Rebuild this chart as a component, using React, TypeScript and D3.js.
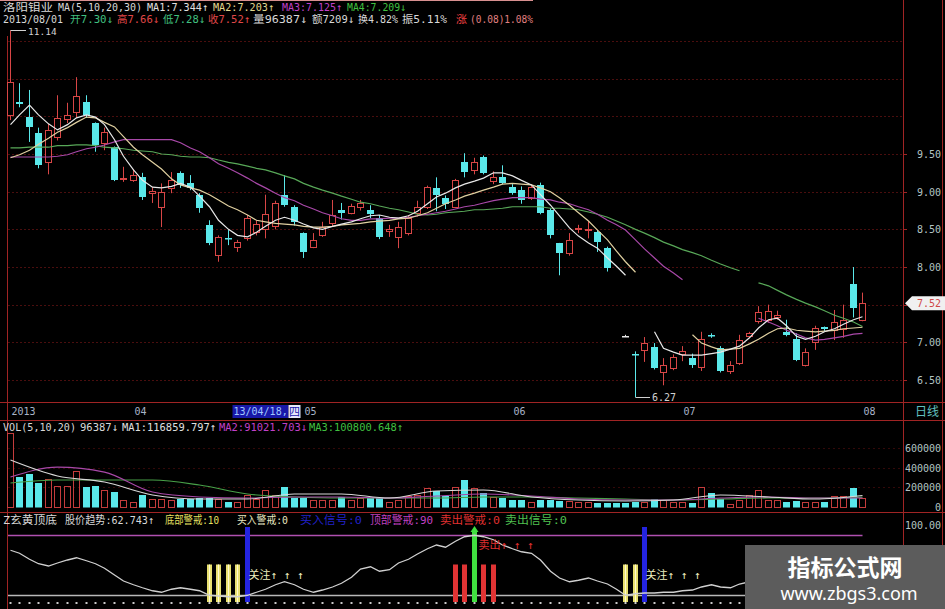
import React from 'react';
import * as d3 from 'd3';

const W = 945;
const H = 609;

// ---------- price candles (index 64 missing in the price panel) ----------
const opens: (number | null)[] = [10.02, 10.19, 9.99, 9.78, 9.40, 9.72, 9.96, 10.06, 10.19, 9.91, 9.65, 9.59, 9.17, 9.16, 9.19, 8.98, 8.79, 9.05, 9.25, 9.11, 8.96, 8.56, 8.16, 8.39, 8.26, 8.38, 8.47, 8.50, 8.55, 8.96, 8.80, 8.45, 8.27, 8.43, 8.58, 8.76, 8.72, 8.79, 8.76, 8.65, 8.48, 8.40, 8.45, 8.72, 8.80, 9.05, 8.92, 8.80, 9.39, 9.29, 9.46, 9.14, 9.19, 9.06, 9.02, 8.92, 9.09, 8.76, 8.32, 8.19, 8.50, 8.49, 8.46, 8.25, null, 7.09, 6.85, 6.90, 6.94, 6.60, 6.66, 6.84, 6.79, 6.67, 7.10, 6.92, 6.62, 6.72, 7.09, 7.28, 7.30, 7.34, 7.14, 7.05, 6.70, 7.00, 7.20, 7.17, 7.18, 7.78, 7.30];
const highs: (number | null)[] = [11.14, 10.44, 10.35, 9.85, 9.90, 10.28, 10.18, 10.52, 10.28, 9.92, 9.85, 9.60, 9.33, 9.30, 9.25, 9.06, 9.11, 9.26, 9.27, 9.22, 8.98, 8.62, 8.42, 8.49, 8.36, 8.69, 8.62, 8.96, 8.88, 9.22, 8.82, 8.46, 8.45, 8.60, 8.89, 8.85, 8.84, 8.89, 8.82, 8.69, 8.56, 8.60, 8.69, 8.88, 9.08, 9.19, 8.95, 9.17, 9.51, 9.45, 9.48, 9.27, 9.35, 9.10, 9.07, 9.09, 9.12, 8.78, 8.32, 8.45, 8.56, 8.61, 8.49, 8.27, null, 7.10, 6.88, 7.07, 6.99, 6.79, 6.84, 6.95, 6.85, 7.14, 7.12, 6.95, 6.75, 7.10, 7.14, 7.48, 7.50, 7.42, 7.30, 7.12, 6.92, 7.22, 7.21, 7.43, 7.50, 8.00, 7.66];
const lows: (number | null)[] = [9.95, 10.12, 9.66, 9.31, 9.23, 9.68, 9.91, 9.98, 9.98, 9.53, 9.55, 9.14, 9.13, 9.13, 8.89, 8.85, 8.53, 8.98, 9.05, 9.02, 8.72, 8.29, 8.07, 8.29, 8.20, 8.35, 8.42, 8.38, 8.50, 8.80, 8.55, 8.12, 8.25, 8.40, 8.53, 8.63, 8.70, 8.75, 8.65, 8.37, 8.40, 8.25, 8.42, 8.67, 8.77, 8.74, 8.77, 8.78, 9.19, 9.23, 9.23, 9.10, 9.10, 8.96, 8.84, 8.89, 8.70, 8.38, 7.89, 8.15, 8.45, 8.38, 8.20, 7.94, null, 7.08, 6.27, 6.74, 6.64, 6.43, 6.63, 6.75, 6.66, 6.62, 7.06, 6.60, 6.58, 6.70, 7.06, 7.25, 7.26, 7.30, 7.08, 6.75, 6.68, 6.90, 7.15, 7.03, 7.06, 7.33, 7.28];
const closes: (number | null)[] = [10.46, 10.17, 9.86, 9.35, 9.82, 9.98, 10.02, 10.27, 10.02, 9.62, 9.79, 9.16, 9.18, 9.22, 8.93, 9.01, 8.99, 9.15, 9.09, 9.05, 8.78, 8.32, 8.40, 8.38, 8.33, 8.65, 8.57, 8.70, 8.85, 8.82, 8.60, 8.20, 8.36, 8.53, 8.69, 8.72, 8.81, 8.85, 8.70, 8.40, 8.50, 8.53, 8.65, 8.80, 9.06, 8.96, 8.83, 9.15, 9.26, 9.39, 9.25, 9.20, 9.11, 8.98, 8.89, 9.06, 8.72, 8.43, 8.19, 8.36, 8.52, 8.51, 8.33, 7.99, null, 7.09, 6.83, 6.99, 6.66, 6.70, 6.80, 6.88, 6.70, 7.05, 7.08, 6.62, 6.70, 7.03, 7.12, 7.40, 7.42, 7.36, 7.10, 6.76, 6.87, 7.19, 7.18, 7.27, 7.30, 7.45, 7.52];

// ---------- price moving averages ----------
const ma5: (number | null)[] = [9.89, 10.02, 10.15, 10.02, 9.90, 9.82, 9.89, 9.98, 10.02, 9.99, 9.89, 9.69, 9.47, 9.29, 9.15, 9.06, 9.05, 9.07, 9.11, 9.06, 8.94, 8.80, 8.62, 8.50, 8.42, 8.40, 8.46, 8.54, 8.62, 8.66, 8.62, 8.57, 8.52, 8.50, 8.54, 8.57, 8.60, 8.64, 8.68, 8.69, 8.66, 8.65, 8.68, 8.74, 8.84, 8.93, 8.98, 9.05, 9.10, 9.14, 9.18, 9.25, 9.25, 9.21, 9.15, 9.09, 8.96, 8.82, 8.68, 8.52, 8.41, 8.32, 8.25, 8.12, 8.01, 7.89, null, null, 7.14, 6.92, 6.87, 6.83, 6.83, 6.83, 6.85, 6.87, 6.91, 6.95, 7.06, 7.19, 7.30, 7.32, 7.22, 7.08, 7.04, 7.08, 7.14, 7.18, 7.24, 7.30, 7.34];
const ma10: (number | null)[] = [9.45, 9.49, 9.55, 9.63, 9.71, 9.79, 9.85, 9.92, 9.99, 9.98, 9.92, 9.86, 9.73, 9.59, 9.49, 9.39, 9.30, 9.17, 9.09, 9.05, 9.02, 8.96, 8.89, 8.81, 8.76, 8.69, 8.62, 8.60, 8.58, 8.57, 8.56, 8.54, 8.53, 8.53, 8.54, 8.56, 8.57, 8.58, 8.60, 8.61, 8.62, 8.64, 8.65, 8.68, 8.72, 8.78, 8.84, 8.89, 8.94, 8.98, 9.02, 9.06, 9.10, 9.11, 9.10, 9.09, 9.05, 9.00, 8.92, 8.82, 8.72, 8.61, 8.49, 8.36, 8.21, 8.07, 7.93, null, null, null, null, null, 7.10, 6.99, 6.94, 6.90, 6.91, 6.92, 6.98, 7.04, 7.12, 7.18, 7.19, 7.16, 7.15, 7.14, 7.15, 7.16, 7.18, 7.19, 7.20];
const ma20: (number | null)[] = [9.46, 9.46, 9.46, 9.46, 9.46, 9.47, 9.49, 9.53, 9.57, 9.59, 9.62, 9.66, 9.69, 9.69, 9.69, 9.69, 9.69, 9.69, 9.65, 9.58, 9.53, 9.45, 9.37, 9.31, 9.25, 9.18, 9.11, 9.05, 8.98, 8.92, 8.88, 8.82, 8.77, 8.72, 8.68, 8.64, 8.62, 8.62, 8.64, 8.64, 8.65, 8.65, 8.66, 8.68, 8.70, 8.72, 8.74, 8.77, 8.80, 8.82, 8.85, 8.88, 8.90, 8.92, 8.92, 8.92, 8.90, 8.89, 8.86, 8.84, 8.80, 8.76, 8.70, 8.62, 8.56, 8.49, 8.36, 8.24, 8.12, 8.01, 7.92, 7.83, null, null, null, null, null, null, null, 7.32, 7.27, 7.22, 7.16, 7.11, 7.06, 7.03, 7.04, 7.06, 7.08, 7.11, 7.12];
const ma30: (number | null)[] = [9.58, 9.58, 9.59, 9.59, 9.59, 9.61, 9.61, 9.62, 9.62, 9.61, 9.59, 9.58, 9.57, 9.55, 9.54, 9.53, 9.50, 9.49, 9.47, 9.46, 9.46, 9.45, 9.42, 9.39, 9.37, 9.34, 9.31, 9.29, 9.25, 9.21, 9.17, 9.11, 9.06, 9.02, 8.98, 8.94, 8.90, 8.86, 8.84, 8.81, 8.78, 8.76, 8.73, 8.70, 8.69, 8.70, 8.72, 8.73, 8.74, 8.76, 8.76, 8.77, 8.78, 8.80, 8.80, 8.80, 8.80, 8.78, 8.78, 8.77, 8.76, 8.73, 8.70, 8.66, 8.61, 8.56, 8.50, 8.45, 8.39, 8.33, 8.28, 8.23, 8.19, 8.15, 8.09, 8.04, 7.99, 7.95, null, 7.79, 7.75, 7.69, 7.63, 7.57, 7.52, 7.47, 7.42, 7.36, 7.32, 7.27, 7.21];

// ---------- volume ----------
const volumes: number[] = [751000, 305000, 335000, 244000, 284000, 213000, 213000, 365000, 203000, 213000, 173000, 152000, 71000, 51000, 122000, 81000, 81000, 71000, 81000, 81000, 92000, 92000, 81000, 51000, 51000, 122000, 81000, 173000, 122000, 203000, 92000, 92000, 71000, 71000, 71000, 102000, 71000, 92000, 92000, 92000, 51000, 71000, 112000, 122000, 193000, 163000, 112000, 203000, 274000, 193000, 142000, 102000, 92000, 71000, 71000, 51000, 71000, 71000, 60000, 60000, 51000, 51000, 41000, 41000, 36000, 41000, 51000, 51000, 81000, 71000, 51000, 51000, 41000, 203000, 142000, 81000, 30000, 71000, 122000, 173000, 71000, 71000, 51000, 61000, 51000, 51000, 51000, 112000, 112000, 193000, 96387];
const volMaIdx: number[] = [0, 5, 10, 15, 20, 25, 30, 35, 40, 45, 50, 55, 60, 65, 70, 75, 80, 85, 90];
const volMa5: number[] = [477000, 315000, 254000, 122000, 81000, 81000, 132000, 132000, 91000, 162000, 173000, 102000, 71000, 61000, 71000, 122000, 102000, 81000, 116860];
const volMa10: number[] = [305000, 406000, 355000, 152000, 102000, 91000, 102000, 102000, 91000, 112000, 132000, 112000, 81000, 71000, 71000, 91000, 102000, 91000, 91022];
const volMa20: number[] = [244000, 274000, 274000, 274000, 223000, 132000, 102000, 91000, 91000, 91000, 102000, 102000, 91000, 81000, 71000, 81000, 91000, 91000, 100800];

// ---------- indicator (Z玄黄顶底) ----------
const trend: number[] = [69, 65, 57, 51, 48, 52, 56, 59, 55, 51, 45, 36, 28, 23, 19, 15, 13, 17, 19, 17, 15, 9, 8, 7, 7, 9, 13, 17, 23, 27, 23, 17, 13, 16, 20, 25, 33, 44, 47, 41, 43, 52, 57, 64, 71, 76, 73, 81, 87, 89, 87, 83, 76, 71, 67, 65, 56, 41, 32, 27, 29, 32, 28, 24, 17, 9, 11, 12, 12, 13, 13, 15, 16, 20, 23, 20, 19, 24, 27];
const bottomSig: number[] = [21, 22, 23, 24, 65, 66];
const buySig: number[] = [25, 67];
const sellWarnSig: number[] = [47, 48, 50, 51];
const sellSig: number[] = [49];

// ---------- tick labels ----------
const priceTicks: number[] = [6.5, 7.0, 7.5, 8.0, 8.5, 9.0, 9.5];
const gridPrices: number[] = [6.5, 7.0, 7.5, 8.0, 8.5, 9.0, 9.5, 10.0, 10.5, 11.0];
const volTicks: number[] = [0, 200000, 400000, 600000];
const dateLabels: string[] = ['2013', '04', '05', '06', '07', '08'];
const dateIdx: number[] = [0, 13, 31, 53, 71, 90];

const CYAN = '#5ae8ea';
const RED = '#d84646';
const GRID = '#4a0e0e';
const FRAME = '#a02424';
const AXIS_TXT = '#b4c4c4';

const N = opens.length;
const xBand = d3.scaleBand<number>().domain(d3.range(N)).range([5, 867]);
const cx = (i: number) => Math.round((xBand(i) as number) + xBand.bandwidth() / 2) + 0.5;
const yP = d3.scaleLinear().domain([6.5, 9.5]).range([380, 154]);
const yV = d3.scaleLinear().domain([0, 600000]).range([507, 448]);
const yI = d3.scaleLinear().domain([0, 100]).range([602, 527]);

const MONO = "'DejaVu Sans Mono', 'Noto Sans CJK SC', monospace";

type Seg = { t: string; x: number; w: number; c: string };
const head1: Seg[] = [
  { t: '洛阳钼业', x: 3, w: 50, c: '#d8d8d8' },
  { t: 'MA(5,10,20,30)', x: 58, w: 84, c: '#d8d8d8' },
  { t: 'MA1:7.344↑', x: 147, w: 61, c: '#e0e0e0' },
  { t: 'MA2:7.203↑', x: 213, w: 61, c: '#e0d890' },
  { t: 'MA3:7.125↑', x: 282, w: 60, c: '#c040c8' },
  { t: 'MA4:7.209↓', x: 347, w: 59, c: '#40c040' },
];
const head2: Seg[] = [
  { t: '2013/08/01', x: 3, w: 60, c: '#d8d8d8' },
  { t: '开7.30↓', x: 70, w: 43, c: '#40c080' },
  { t: '高7.66↓', x: 117, w: 42, c: '#e04848' },
  { t: '低7.28↓', x: 163, w: 42, c: '#40c080' },
  { t: '收7.52↑', x: 208, w: 42, c: '#e04848' },
  { t: '量96387↓', x: 253, w: 54, c: '#d8d8d8' },
  { t: '额7209↓', x: 312, w: 42, c: '#d8d8d8' },
  { t: '换4.82%', x: 358, w: 40, c: '#d8d8d8' },
  { t: '振5.11%', x: 402, w: 45, c: '#d8d8d8' },
  { t: '涨', x: 456, w: 11, c: '#f04040' },
  { t: '(0.08)1.08%', x: 470, w: 63, c: '#e08080' },
];
const volHead: Seg[] = [
  { t: 'VOL(5,10,20)', x: 3, w: 73, c: '#d8d8d8' },
  { t: '96387↓', x: 80, w: 38, c: '#d8d8d8' },
  { t: 'MA1:116859.797↑', x: 122, w: 94, c: '#e0e0e0' },
  { t: 'MA2:91021.703↓', x: 219, w: 88, c: '#c040c8' },
  { t: 'MA3:100800.648↑', x: 309, w: 94, c: '#40c040' },
];
const indHead: Seg[] = [
  { t: 'Z玄黄顶底', x: 3, w: 54, c: '#d8d8d8' },
  { t: '股价趋势:62.743↑', x: 65, w: 89, c: '#d8d8d8' },
  { t: '底部警戒:10', x: 165, w: 54, c: '#e8e060' },
  { t: '买入警戒:0', x: 237, w: 51, c: '#e8e8c0' },
  { t: '买入信号:0', x: 300, w: 62, c: '#2020c8' },
  { t: '顶部警戒:90', x: 370, w: 63, c: '#c040c0' },
  { t: '卖出警戒:0', x: 440, w: 60, c: '#e03030' },
  { t: '卖出信号:0', x: 505, w: 62, c: '#50c050' },
];

function Segs({ segs, y, size }: { segs: Seg[]; y: number; size: number }) {
  return (
    <g>
      {segs.map((s, k) => (
        <text key={k} x={s.x} y={y} fill={s.c} fontSize={size} textLength={s.w} lengthAdjust="spacingAndGlyphs" fontFamily={MONO}>
          {s.t}
        </text>
      ))}
    </g>
  );
}

function maPath(vals: (number | null)[]) {
  const line = d3
    .line<number | null>()
    .defined((d) => d != null)
    .x((_, i) => cx(i))
    .y((d) => yP(d as number));
  return line(vals) || '';
}

function volMaPath(vals: number[]) {
  const line = d3
    .line<number>()
    .x((_, k) => cx(volMaIdx[k]))
    .y((d) => yV(d))
    .curve(d3.curveMonotoneX);
  return line(vals) || '';
}

export default function App() {
  const bw = 6;
  const trendLine = d3
    .line<number>()
    .x((_, i) => cx(i))
    .y((d) => yI(d))(trend) || '';

  return (
    <svg width={W} height={H} style={{ position: 'absolute', left: 0, top: 0, background: '#000' }} fontFamily={MONO}>
      <rect x={0} y={0} width={W} height={H} fill="#000" />
      {/* top border */}
      <line x1={0} x2={533} y1={0.5} y2={0.5} stroke="#d89090" />

      {/* price grid */}
      {gridPrices.map((p) => (
        <line key={p} x1={8} x2={903} y1={Math.round(yP(p)) + 0.5} y2={Math.round(yP(p)) + 0.5} stroke={GRID} strokeDasharray="2,2" />
      ))}
      {volTicks.slice(1).map((v) => (
        <line key={v} x1={8} x2={903} y1={Math.round(yV(v)) + 0.5} y2={Math.round(yV(v)) + 0.5} stroke={GRID} strokeDasharray="2,3" opacity={0.7} />
      ))}

      {/* frame */}
      <line x1={7.5} x2={7.5} y1={36} y2={H} stroke={FRAME} />
      <line x1={903.5} x2={903.5} y1={0} y2={H} stroke={FRAME} />
      <line x1={942.5} x2={942.5} y1={0} y2={H} stroke={FRAME} />
      <line x1={0} x2={W} y1={402.5} y2={402.5} stroke={FRAME} />
      <line x1={0} x2={W} y1={420.5} y2={420.5} stroke={FRAME} />
      <line x1={0} x2={W} y1={512.5} y2={512.5} stroke={FRAME} />

      {/* candles */}
      {opens.map((o, i) => {
        const c = closes[i];
        const h = highs[i];
        const l = lows[i];
        if (o == null || c == null || h == null || l == null) return null;
        const x = cx(i);
        const up = c > o;
        const flat = c === o;
        const col = flat ? '#e8e8e8' : up ? RED : CYAN;
        const top = Math.round(yP(Math.max(o, c)));
        const bot = Math.max(top + 1, Math.round(yP(Math.min(o, c))));
        if (up) {
          return (
            <g key={i}>
              <line x1={x} x2={x} y1={yP(h)} y2={top} stroke={col} />
              <line x1={x} x2={x} y1={bot} y2={yP(l)} stroke={col} />
              <rect x={x - bw / 2} y={top + 0.5} width={bw} height={bot - top} fill="#000" stroke={col} />
            </g>
          );
        }
        return (
          <g key={i}>
            <line x1={x} x2={x} y1={yP(h)} y2={yP(l)} stroke={col} />
            <rect x={x - bw / 2 - 0.5} y={top} width={bw + 1} height={Math.max(1.5, bot - top)} fill={col} />
          </g>
        );
      })}

      {/* MAs */}
      <path d={maPath(ma30)} fill="none" stroke="#58a858" strokeWidth={1.2} />
      <path d={maPath(ma20)} fill="none" stroke="#a848a8" strokeWidth={1.2} />
      <path d={maPath(ma10)} fill="none" stroke="#e0d0a0" strokeWidth={1.2} />
      <path d={maPath(ma5)} fill="none" stroke="#e8e8e8" strokeWidth={1.2} />

      {/* high / low markers */}
      <line x1={cx(0)} x2={26} y1={Math.round(yP(11.14)) + 0.5} y2={Math.round(yP(11.14)) + 0.5} stroke="#d0d0d0" />
      <text x={28} y={yP(11.14) + 5} fill="#d0d0d0" fontSize={9.5}>11.14</text>
      <line x1={cx(66)} x2={650} y1={Math.round(yP(6.27)) + 0.5} y2={Math.round(yP(6.27)) + 0.5} stroke="#d0d0d0" />
      <text x={652} y={yP(6.27) + 4} fill="#d0d0d0" fontSize={10}>6.27</text>

      {/* headers */}
      <Segs segs={head1} y={11} size={10.5} />
      <Segs segs={head2} y={23} size={10.5} />

      {/* right price axis */}
      {priceTicks.map((p) => (
        <g key={p}>
          <line x1={903} x2={907} y1={Math.round(yP(p)) + 0.5} y2={Math.round(yP(p)) + 0.5} stroke={FRAME} />
          <text x={941} y={yP(p) + 4} fill={AXIS_TXT} fontSize={10} textAnchor="end">{p.toFixed(2)}</text>
        </g>
      ))}
      <path d={`M905,${yP(7.52)} L912,${yP(7.52) - 7} L945,${yP(7.52) - 7} L945,${yP(7.52) + 7} L912,${yP(7.52) + 7} Z`} fill="#f0f0f0" />
      <text x={941} y={yP(7.52) + 4} fill="#d04848" fontSize={10} textAnchor="end">7.52</text>

      {/* date axis */}
      {dateLabels.map((d, k) => (
        <text key={d} x={cx(dateIdx[k]) + 1} y={415} fill="#a8b4c8" fontSize={10}>{d}</text>
      ))}
      <rect x={cx(24) - 5} y={405} width={56} height={13} fill="#1818a8" />
      <text x={cx(24) - 4} y={415} fill="#a0c8ff" fontSize={10}>13/04/18,</text>
      <rect x={cx(24) + 51} y={405} width={12} height={13} fill="#e8e8f8" />
      <text x={cx(24) + 51.5} y={415.5} fill="#1818a8" fontSize={11}>四</text>
      <text x={915} y={416} fill="#60c0c0" fontSize={12}>日线</text>

      {/* volume */}
      <Segs segs={volHead} y={431} size={11} />
      {volumes.map((v, i) => {
        const o = opens[i];
        const c = closes[i];
        const up = o != null && c != null && c > o;
        const x = cx(i);
        const top = Math.round(yV(v));
        const base = Math.round(yV(0));
        return up ? (
          <rect key={i} x={x - bw / 2} y={top + 0.5} width={bw} height={base - top} fill="none" stroke="#c43c3c" />
        ) : (
          <rect key={i} x={x - bw / 2 - 0.5} y={top} width={bw + 1} height={base - top + 0.5} fill={CYAN} />
        );
      })}
      <path d={volMaPath(volMa20)} fill="none" stroke="#48a048" strokeWidth={1.1} />
      <path d={volMaPath(volMa10)} fill="none" stroke="#a848a8" strokeWidth={1.1} />
      <path d={volMaPath(volMa5)} fill="none" stroke="#d8d8d8" strokeWidth={1.1} />
      {volTicks.map((v) => (
        <text key={v} x={941} y={yV(v) + 4} fill={AXIS_TXT} fontSize={10} textAnchor="end">{v}</text>
      ))}

      {/* indicator panel */}
      <Segs segs={indHead} y={524} size={11} />
      <line x1={8} x2={cx(90)} y1={Math.round(yI(90)) + 0.5} y2={Math.round(yI(90)) + 0.5} stroke="#b050b0" strokeWidth={1.3} />
      <line x1={8} x2={cx(90)} y1={Math.round(yI(10)) + 0.5} y2={Math.round(yI(10)) + 0.5} stroke="#b8b8b8" strokeWidth={1.3} />
      {d3.range(N).map((i) => (
        <rect key={i} x={cx(i) - 1} y={yI(0)} width={2} height={2} fill="#c8c8c8" />
      ))}
      {bottomSig.map((i) => (
        <g key={'b' + i}>
          <rect x={cx(i) - 2.5} y={yI(50)} width={5} height={yI(0) - yI(50)} fill="#e8e070" />
          <line x1={cx(i)} x2={cx(i)} y1={yI(50)} y2={yI(0)} stroke="#fffad0" />
        </g>
      ))}
      {buySig.map((i) => (
        <rect key={'u' + i} x={cx(i) - 2.5} y={yI(100)} width={5} height={yI(0) - yI(100)} fill="#2424e0" />
      ))}
      {sellWarnSig.map((i) => (
        <rect key={'r' + i} x={cx(i) - 2.5} y={yI(50)} width={5} height={yI(0) - yI(50)} fill="#e03434" />
      ))}
      {sellSig.map((i) => (
        <g key={'g' + i}>
          <rect x={cx(i) - 2.5} y={yI(100) + 4} width={5} height={yI(0) - yI(100) - 4} fill="#40e040" />
          <path d={`M${cx(i) - 4},${yI(100) + 5} L${cx(i)},${yI(100) - 1} L${cx(i) + 4},${yI(100) + 5} Z`} fill="#40e040" />
        </g>
      ))}
      <path d={trendLine} fill="none" stroke="#d0d0d0" strokeWidth={1.3} />
      {buySig.map((i) => (
        <text key={'t' + i} x={cx(i) + 1} y={579} fill="#f0f0c0" fontSize={11}>关注↑ ↑ ↑</text>
      ))}
      <text x={cx(sellWarnSig[2]) - 5} y={549} fill="#e03030" fontSize={11}>卖出↑ ↑ ↑</text>
      <text x={941} y={529} fill={AXIS_TXT} fontSize={10} textAnchor="end">100.00</text>

      {/* watermark */}
      <rect x={745} y={545} width={200} height={64} fill="#5c5c5c" />
      <text x={845} y={576} fill="#ffffff" fontSize={23} fontWeight="bold" textAnchor="middle" fontFamily="'Noto Sans CJK SC', sans-serif">指标公式网</text>
      <text x={849} y={600} fill="#ffffff" fontSize={18} textAnchor="middle" fontFamily="'Noto Sans', 'DejaVu Sans', sans-serif">www.zbgs3.com</text>
    </svg>
  );
}
